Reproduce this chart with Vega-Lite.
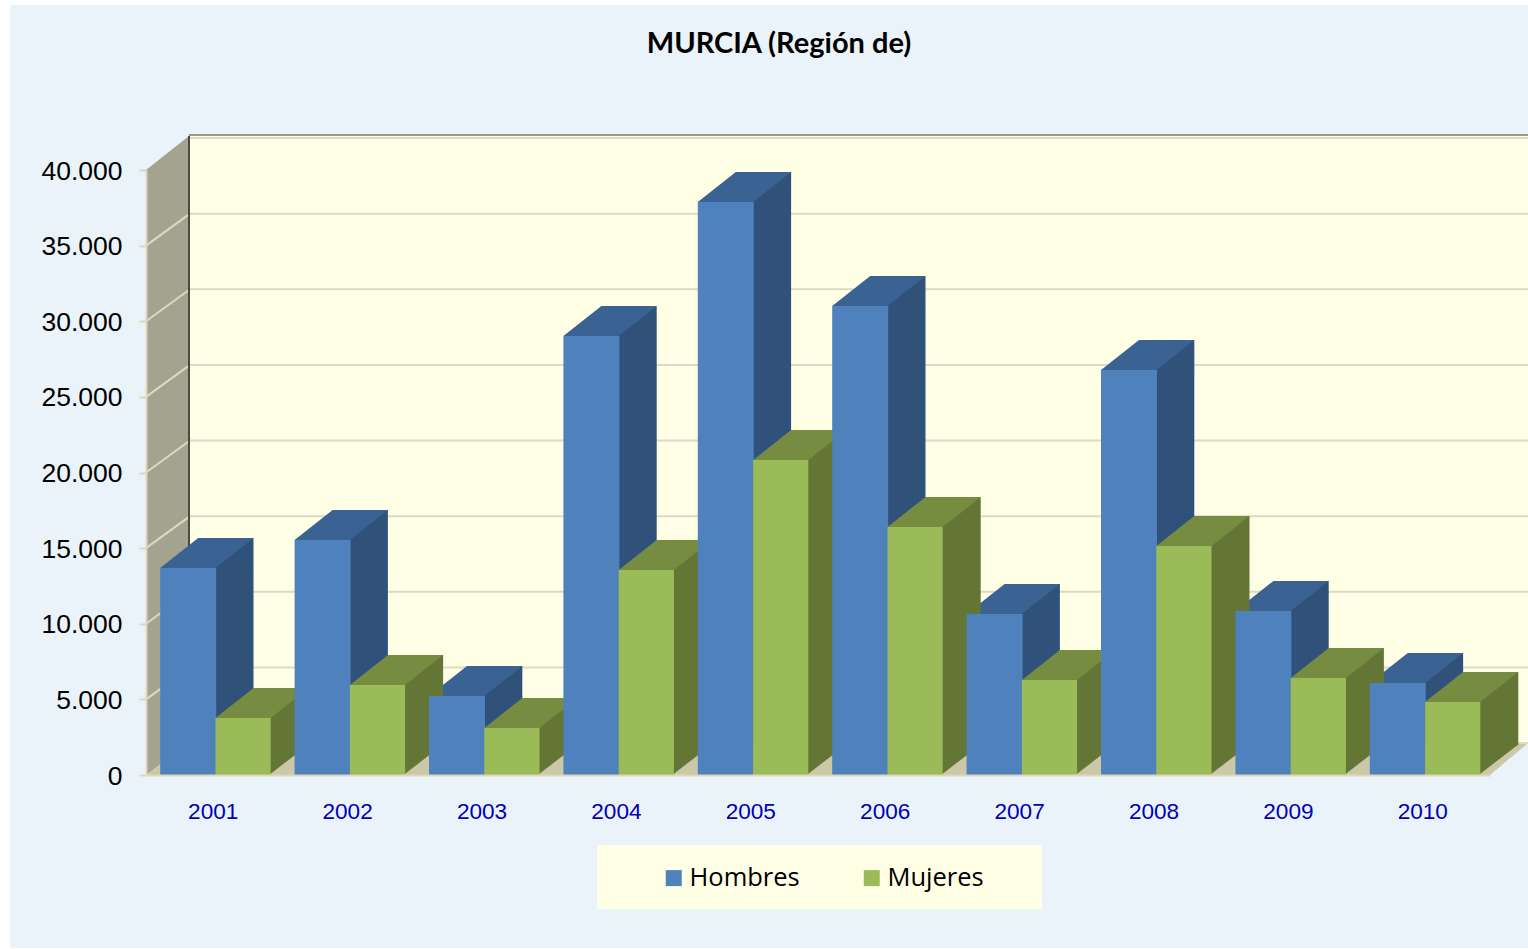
{
"$schema":"https://vega.github.io/schema/vega-lite/v6.json",
"width":1344,"height":605,"autosize":"none",
"padding":{"left":146,"top":170,"right":38,"bottom":174},
"background":"white",
"title":{"text":"MURCIA (Región de)","font":"Lato","fontSize":29,"fontWeight":"bold","color":"#000000","anchor":"middle","dx":-39,"offset":-54},
"data":{"values":[
{"year":2001,"sex":"Hombres","value":13686},{"year":2001,"sex":"Mujeres","value":3769},
{"year":2002,"sex":"Hombres","value":15537},{"year":2002,"sex":"Mujeres","value":5950},
{"year":2003,"sex":"Hombres","value":5223},{"year":2003,"sex":"Mujeres","value":3107},
{"year":2004,"sex":"Hombres","value":29025},{"year":2004,"sex":"Mujeres","value":13554},
{"year":2005,"sex":"Hombres","value":37884},{"year":2005,"sex":"Mujeres","value":20826},
{"year":2006,"sex":"Hombres","value":31008},{"year":2006,"sex":"Mujeres","value":16397},
{"year":2007,"sex":"Hombres","value":10645},{"year":2007,"sex":"Mujeres","value":6281},
{"year":2008,"sex":"Hombres","value":26777},{"year":2008,"sex":"Mujeres","value":15140},
{"year":2009,"sex":"Hombres","value":10843},{"year":2009,"sex":"Mujeres","value":6413},
{"year":2010,"sex":"Hombres","value":6083},{"year":2010,"sex":"Mujeres","value":4826}
]},
"layer":[
{"data":{"values":[{"part":"panel"}]},"mark":{"type":"rect","fill":"#EBF3FA","xOffset":-136,"x2Offset":38,"yOffset":-165,"y2Offset":173},
 "encoding":{
 "x":{"datum":2000.5,"title":null,"scale":{"domain":[2000.5,2010.5],"nice":false,"zero":false,"padding":0},
"axis":{"title":null,"values":[2001,2002,2003,2004,2005,2006,2007,2008,2009,2010],"format":"d","grid":false,"ticks":false,"domainColor":"#DDD8BC","domainWidth":2,"labelFont":"Liberation Sans","labelFontSize":22.6,"labelColor":"#0000B4","labelPadding":25,"labelOffset":-0.5,"labelOverlap":false,"labelFlush":false,"zindex":1}},
 "x2":{"datum":2010.5},
 "y":{"datum":40000,"title":null,"scale":{"domain":[0,40000],"nice":false},
"axis":{"title":null,"values":[0,5000,10000,15000,20000,25000,30000,35000,40000],"labelExpr":"replace(format(datum.value,','),',','.')","grid":false,"tickColor":"#DDD8BC","tickSize":7,"tickWidth":2,"domainColor":"#DDD8BC","domainWidth":2,"labelFont":"Liberation Sans","labelFontSize":26.5,"labelColor":"#000000","labelPadding":17,"labelOffset":1,"zindex":1}},
 "y2":{"datum":0}}},
{"data":{"values":[{"part":"wall"}]},"mark":{"type":"rect","fill":"#FFFFE5","xOffset":44,"x2Offset":38,"yOffset":-34,"y2Offset":-32},
 "encoding":{"x":{"datum":2000.5},"x2":{"datum":2010.5},"y":{"datum":40000},"y2":{"datum":0}}},
{"data":{"values":[{"part":"floor"}]},"mark":{"type":"point","filled":true,"opacity":1,"size":4,"fill":"#CBC8A8","stroke":null,"shape":"M0,0L44,-32L1382,-32L1344,0Z"},
 "encoding":{"x":{"datum":2000.5},"y":{"datum":0}}},
{"data":{"values":[{"part":"side wall"}]},"mark":{"type":"point","filled":true,"opacity":1,"size":4,"fill":"#A3A38F","stroke":null,"shape":"M0,0L0,-605L43,-639L43,-32Z"},
 "encoding":{"x":{"datum":2000.5},"y":{"datum":0}}},
{"data":{"values":[{"v":5000},{"v":10000},{"v":15000},{"v":20000},{"v":25000},{"v":30000},{"v":35000},{"v":40000},{"v":0}]},
 "mark":{"type":"rule","color":"#DDD9C3","strokeWidth":2,"xOffset":44,"x2Offset":38,"yOffset":-32},
 "encoding":{"x":{"datum":2000.5},"x2":{"datum":2010.5},"y":{"field":"v","type":"quantitative","title":null}}},
{"data":{"values":[{"v":5000},{"v":10000},{"v":15000},{"v":20000},{"v":25000},{"v":30000},{"v":35000}]},
 "mark":{"type":"rule","color":"#DDD9C3","strokeWidth":2,"x2Offset":44,"y2Offset":-32},
 "encoding":{"x":{"datum":2000.5},"x2":{"datum":2000.5},"y":{"field":"v","type":"quantitative","title":null},"y2":{"field":"v"}}},
{"data":{"values":[{"part":"corner"}]},"mark":{"type":"rule","color":"#4A4A45","strokeWidth":2,"xOffset":43,"yOffset":-34,"y2Offset":-32},
 "encoding":{"x":{"datum":2000.5},"y":{"datum":40000},"y2":{"datum":0}}},
{"data":{"values":[{"part":"top edge"}]},"mark":{"type":"rule","color":"#9A9A8C","strokeWidth":2,"xOffset":43,"x2Offset":38,"yOffset":-35},
 "encoding":{"x":{"datum":2000.5},"x2":{"datum":2010.5},"y":{"datum":40000}}},
{"data":{"values":[{"part":"legend box"}]},"mark":{"type":"rect","fill":"#FFFFE5","xOffset":451,"x2Offset":-448,"yOffset":675,"y2Offset":134},
 "encoding":{"x":{"datum":2000.5},"x2":{"datum":2010.5},"y":{"datum":40000},"y2":{"datum":0}}},

{"transform":[{"filter":{"field":"sex","equal":"Hombres"}}],"mark":{"type":"bar","orient":"vertical","size":39,"xOffset":20.8,"y2Offset":-30,"fill":"#30527A"},
 "encoding":{"x":{"field":"year","type":"quantitative","title":null},"y":{"field":"value","type":"quantitative","title":null},"y2":{"datum":0}}},
{"transform":[{"filter":{"field":"sex","equal":"Hombres"}}],"mark":{"type":"point","filled":true,"opacity":1,"size":4,"xOffset":2.3,"fill":"#30527A","stroke":null,"shape":"M-1,0.5L-1,-1L37,-30L38,-30L38,0.5Z"},
 "encoding":{"x":{"field":"year","type":"quantitative","title":null},"y":{"field":"value","type":"quantitative","title":null}}},
{"transform":[{"filter":{"field":"sex","equal":"Hombres"}}],"mark":{"type":"point","filled":true,"opacity":1,"size":4,"xOffset":-53,"fill":"#3A6293","stroke":null,"shape":"M0,0L55.3,0L93.3,-30L38,-30Z"},
 "encoding":{"x":{"field":"year","type":"quantitative","title":null},"y":{"field":"value","type":"quantitative","title":null}}},
{"transform":[{"filter":{"field":"sex","equal":"Mujeres"}}],"mark":{"type":"bar","orient":"vertical","size":39,"xOffset":76,"y2Offset":-30,"fill":"#647636"},
 "encoding":{"x":{"field":"year","type":"quantitative","title":null},"y":{"field":"value","type":"quantitative","title":null},"y2":{"datum":0}}},
{"transform":[{"filter":{"field":"sex","equal":"Mujeres"}}],"mark":{"type":"point","filled":true,"opacity":1,"size":4,"xOffset":57.5,"fill":"#647636","stroke":null,"shape":"M-1,0.5L-1,-1L37,-30L38,-30L38,0.5Z"},
 "encoding":{"x":{"field":"year","type":"quantitative","title":null},"y":{"field":"value","type":"quantitative","title":null}}},
{"transform":[{"filter":{"field":"sex","equal":"Mujeres"}}],"mark":{"type":"point","filled":true,"opacity":1,"size":4,"xOffset":57.5,"fill":"#647636","stroke":null,"shape":"M-1,-0.5L38,-30.5L-1,-30.5Z"},
 "encoding":{"x":{"field":"year","type":"quantitative","title":null},"y":{"datum":0}}},
{"transform":[{"filter":{"field":"sex","equal":"Mujeres"}}],"mark":{"type":"point","filled":true,"opacity":1,"size":4,"xOffset":2.3,"fill":"#758C41","stroke":null,"shape":"M0,0L55.2,0L93.2,-30L38,-30Z"},
 "encoding":{"x":{"field":"year","type":"quantitative","title":null},"y":{"field":"value","type":"quantitative","title":null}}},

{"transform":[{"filter":{"field":"sex","equal":"Hombres"}}],"mark":{"type":"bar","orient":"vertical","size":56,"xOffset":-25},
 "encoding":{"x":{"field":"year","type":"quantitative","title":null},"y":{"field":"value","type":"quantitative","title":null},"y2":{"datum":0},"color":{"field":"sex","type":"nominal","scale":{"domain":["Hombres","Mujeres"],"range":["#4F81BD","#9BBB59"]},
 "legend":{"title":null,"orient":"none","legendX":515,"legendY":695,"direction":"horizontal","columns":2,"symbolType":"square","symbolSize":256,"symbolStrokeWidth":0,"symbolOpacity":1,"labelFont":"Open Sans","labelFontSize":25.5,"labelColor":"#000000","labelOffset":3,"columnPadding":59,"padding":0}}}},
{"transform":[{"filter":{"field":"sex","equal":"Mujeres"}}],"mark":{"type":"bar","orient":"vertical","size":55.2,"xOffset":29.9},
 "encoding":{"x":{"field":"year","type":"quantitative","title":null},"y":{"field":"value","type":"quantitative","title":null},"y2":{"datum":0},"color":{"field":"sex","type":"nominal"}}}
],
"config":{"view":{"stroke":null},"bar":{"stroke":null}}
}
